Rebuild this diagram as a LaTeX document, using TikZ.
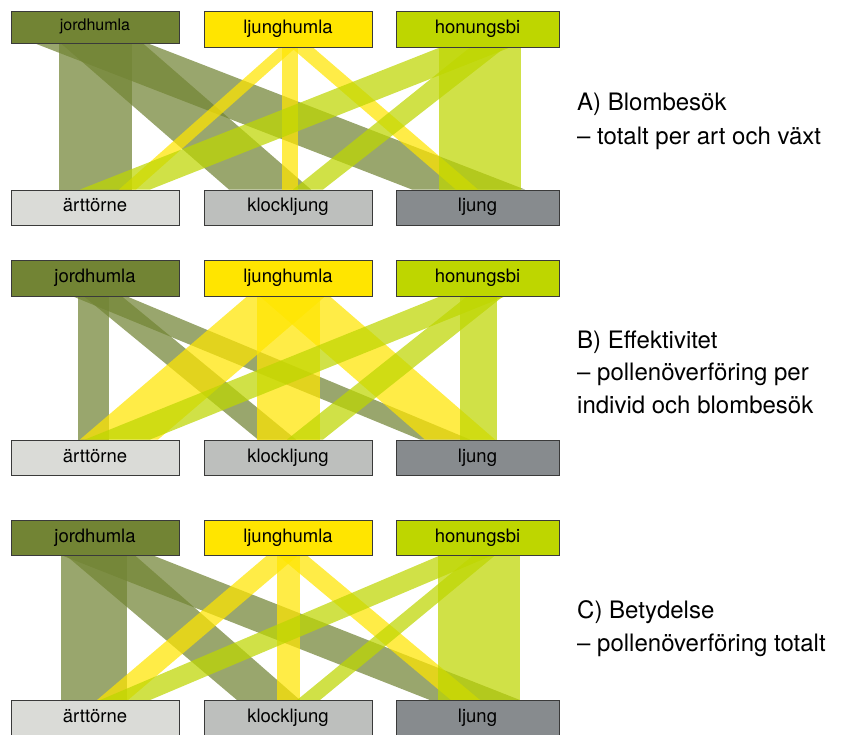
\documentclass[tikz,border=0pt]{standalone}
\usepackage{fontspec}
\setmainfont{TeX Gyre Heros}
\usetikzlibrary{backgrounds}
\definecolor{jord}{HTML}{728434}
\definecolor{ljh}{HTML}{FFE500}
\definecolor{hon}{HTML}{BED600}
\definecolor{art}{HTML}{DADBD7}
\definecolor{klo}{HTML}{BDBFBD}
\definecolor{lju}{HTML}{878B8E}
\definecolor{edge}{HTML}{3A3A3A}
\newcommand\mkband[7]{%
  \fill[bandfill=#1] (#3,0 |- #2.south) -- (#4,0 |- #2.south) -- (#7,0 |- #5.north) -- (#6,0 |- #5.north) -- cycle;}
\tikzset{
  box/.style={draw=edge, line width=0.9pt, inner sep=0pt, minimum height=35pt,
    font=\fontsize{18.5}{20}\selectfont, text height=13pt, text depth=4pt},
  wbox/.style={box, minimum width=168pt},
  nbox/.style={box, minimum width=163pt},
  bandfill/.style={fill=#1, fill opacity=0.72, draw=none},
  caption/.style={anchor=base west, inner sep=0pt, font=\fontsize{24}{28}\selectfont}
}
\begin{document}
\begin{tikzpicture}[x=1pt, y=-1pt]
\useasboundingbox (0,0) rectangle (845,735);
% ---------- Panel A ----------
\node[wbox, fill=jord, minimum height=32pt, font=\fontsize{16}{18}\selectfont, text height=11pt, text depth=3.5pt] (jA) at (95,27) {jordhumla};
\node[wbox, fill=ljh, minimum height=36pt] (lA) at (288,29) {ljunghumla};
\node[nbox, fill=hon, minimum height=36pt] (hA) at (477.5,29) {honungsbi};
\node[wbox, fill=art] (aA) at (95,207.5) {ärttörne};
\node[wbox, fill=klo] (kA) at (288,207.5) {klockljung};
\node[nbox, fill=lju] (gA) at (477.5,207.5) {ljung};
% ---------- Panel B ----------
\node[wbox, fill=jord, minimum height=36pt] (jB) at (95,278) {jordhumla};
\node[wbox, fill=ljh, minimum height=36pt] (lB) at (288,278) {ljunghumla};
\node[nbox, fill=hon, minimum height=36pt] (hB) at (477.5,278) {honungsbi};
\node[wbox, fill=art] (aB) at (95,457.5) {ärttörne};
\node[wbox, fill=klo] (kB) at (288,457.5) {klockljung};
\node[nbox, fill=lju] (gB) at (477.5,457.5) {ljung};
% ---------- Panel C ----------
\node[wbox, fill=jord] (jC) at (95,537.5) {jordhumla};
\node[wbox, fill=ljh] (lC) at (288,537.5) {ljunghumla};
\node[nbox, fill=hon] (hC) at (477.5,537.5) {honungsbi};
\node[wbox, fill=art] (aC) at (95,718) {ärttörne};
\node[wbox, fill=klo] (kC) at (288,718) {klockljung};
\node[nbox, fill=lju] (gC) at (477.5,718) {ljung};
% ---------- Bands ----------
\begin{scope}[on background layer]
% A
\mkband{jord}{jA}{59}{132}{aA}{59}{132}
\mkband{jord}{jA}{61}{143}{kA}{229}{311}
\mkband{jord}{jA}{35}{148}{gA}{412}{525}
\mkband{ljh}{lA}{279}{296}{aA}{119}{136}
\mkband{ljh}{lA}{282}{298}{kA}{282}{298}
\mkband{ljh}{lA}{291}{313}{gA}{456}{478}
\mkband{hon}{hA}{440}{510}{aA}{80}{150}
\mkband{hon}{hA}{470}{505}{kA}{293}{323}
\mkband{hon}{hA}{439}{521}{gA}{439}{521}
% B
\mkband{jord}{jB}{78}{109}{aB}{78}{109}
\mkband{jord}{jB}{84}{122}{kB}{258}{296}
\mkband{jord}{jB}{73}{127}{gB}{420}{470}
\mkband{ljh}{lB}{247}{325}{aB}{80}{158}
\mkband{ljh}{lB}{257}{320}{kB}{257}{320}
\mkband{ljh}{lB}{260}{330}{gB}{425}{495}
\mkband{hon}{hB}{440}{505}{aB}{85}{150}
\mkband{hon}{hB}{467}{503}{kB}{287}{323}
\mkband{hon}{hB}{460}{497}{gB}{460}{497}
% C
\mkband{jord}{jC}{61}{127}{aC}{61}{127}
\mkband{jord}{jC}{66}{135}{kC}{237}{300}
\mkband{jord}{jC}{62}{153}{gC}{430}{520}
\mkband{ljh}{lC}{267}{298}{aC}{97}{128}
\mkband{ljh}{lC}{277}{300}{kC}{277}{300}
\mkband{ljh}{lC}{278}{307}{gC}{451}{480}
\mkband{hon}{hC}{440}{492}{aC}{100}{150}
\mkband{hon}{hC}{473}{495}{kC}{297}{320}
\mkband{hon}{hC}{438}{520}{gC}{438}{520}
\end{scope}
% ---------- Captions ----------
\node[caption] (tA1) at (577,111) {A) Blombesök};
\node[caption] (tA2) at (577,145) {– totalt per art och växt};
\node[caption] (tB1) at (577,348) {B) Effektivitet};
\node[caption] (tB2) at (577,380.5) {– pollenöverföring per};
\node[caption] (tB3) at (577,413) {individ och blombesök};
\node[caption] (tC1) at (577,618) {C) Betydelse};
\node[caption] (tC2) at (577,651) {– pollenöverföring totalt};
\end{tikzpicture}
\end{document}
